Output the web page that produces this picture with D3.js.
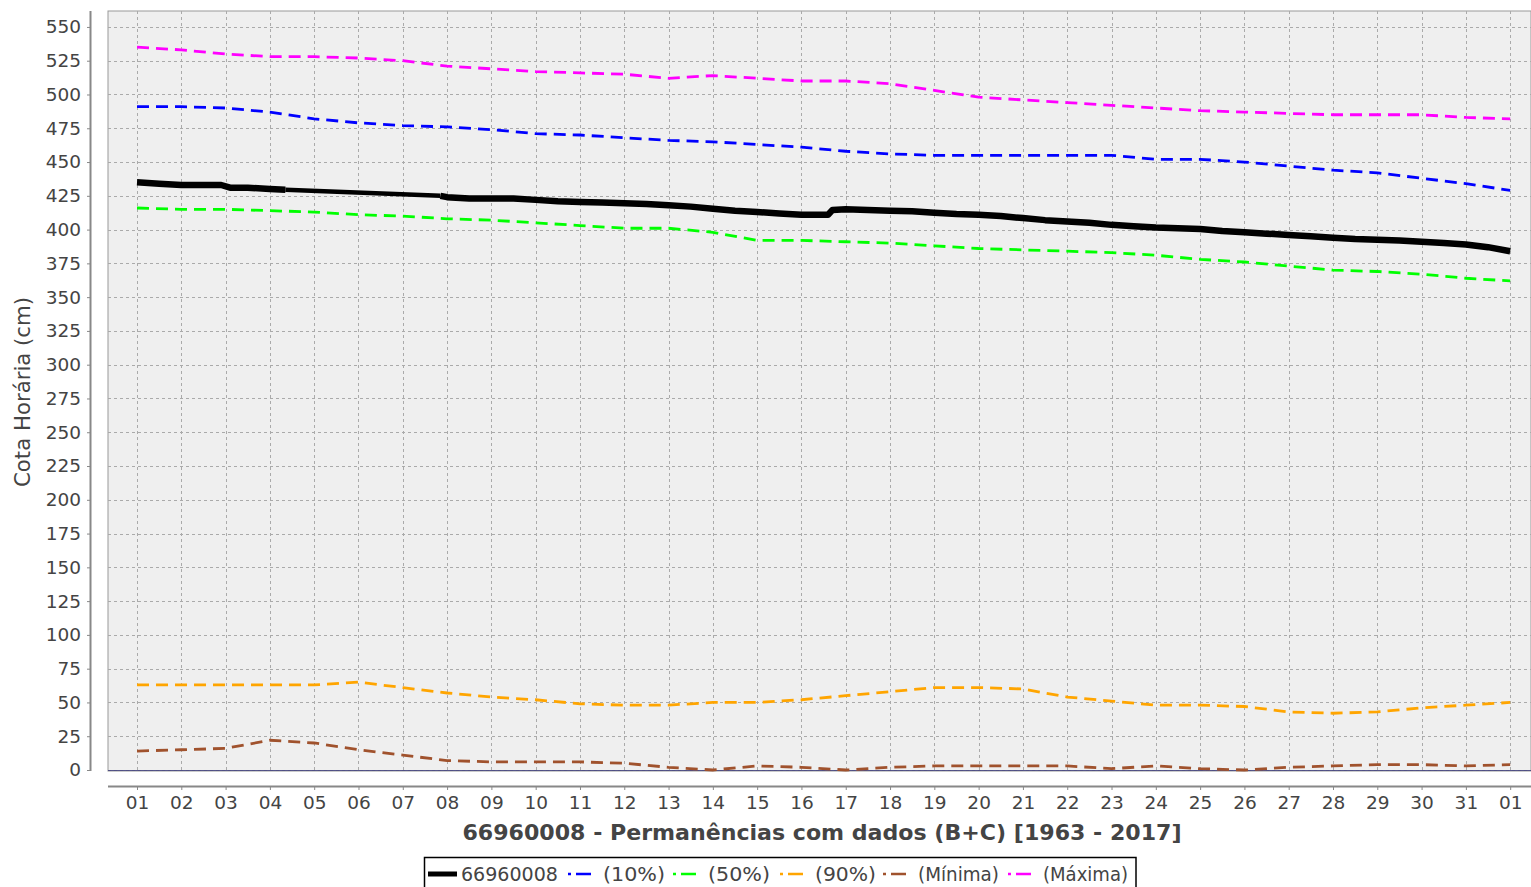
<!DOCTYPE html>
<html><head><meta charset="utf-8">
<script src="https://cdn.jsdelivr.net/npm/d3@7/dist/d3.min.js"></script>
<style>body{margin:0;background:#fff;} svg{display:block;font-family:"DejaVu Sans",sans-serif;}</style>
</head><body>
<svg id="c" width="1531" height="887"></svg>
<script>
// ---- data ----
const dayLabels = ["01","02","03","04","05","06","07","08","09","10","11","12","13","14","15","16","17","18","19","20","21","22","23","24","25","26","27","28","29","30","31","01"];
const yTicks = [0,25,50,75,100,125,150,175,200,225,250,275,300,325,350,375,400,425,450,475,500,525,550];
const stationDays = [0,0.5,1,1.5,1.9,2.1,2.5,3,3.35,6.85,7,7.5,8,8.5,9,9.5,10,10.5,11,11.5,12,12.5,13,13.5,14,14.5,15,15.6,15.7,16,16.5,17,17.5,18,18.5,19,19.5,20,20.5,21,21.5,22,22.5,23,23.5,24,24.5,25,25.5,26,26.5,27,27.5,28,28.5,29,29.5,30,30.5,31];
const stationVals = [435,434,433,433,433,431,431,430,429.5,425,424,423,423,423,422,421,420.5,420,419.5,419,418,417,415.5,414,413,412,411,411,414.5,415,414.5,414,413.5,412.5,411.5,411,410,408.5,407,406,405,403.5,402.5,401.5,401,400.5,399,398,397,396,395,394,393,392.5,392,391,390,389,387,384];
const gapStart = 3.35, gapEnd = 6.85; // period without hourly data (straight connecting segment)
const p10 = [491,491,490,487,482,479,477,476,474,471,470,468,466,465,463,461,458,456,455,455,455,455,455,452,452,450,447,444,442,438,434,429];
const p50 = [416,415,415,414,413,411,410,408,407,405,403,401,401,398,392,392,391,390,388,386,385,384,383,381,378,376,373,370,369,367,364,362];
const p90 = [63,63,63,63,63,65,61,57,54,52,49,48,48,50,50,52,55,58,61,61,60,54,51,48,48,47,43,42,43,46,48,50];
const pMin = [14,15,16,22,20,15,11,7,6,6,6,5,2,0,3,2,0,2,3,3,3,3,1,3,1,0,2,3,4,4,3,4];
const pMax = [535,533,530,528,528,527,525,521,519,517,516,515,512,514,512,510,510,508,503,498,496,494,492,490,488,487,486,485,485,485,483,482];
const seriesNames = ["66960008","(10%)","(50%)","(90%)","(Mínima)","(Máxima)"];
const seriesColors = ["#000000","#0000ff","#00ff00","#ffa500","#a0522d","#ff00ff"];

// ---- layout ----
const svg = d3.select("#c");
const plotL = 108, plotR = 1531, plotT = 11, plotB = 771;
const x = d3.scaleLinear().domain([-0.655, 31.47]).range([plotL, plotR]);
const y = d3.scaleLinear().domain([-0.74, 561.8]).range([plotB, plotT]);
const textCol = "#444";
const axisCol = "#888";

svg.append("rect").attr("x", plotL).attr("y", plotT).attr("width", plotR - plotL).attr("height", plotB - plotT)
  .attr("fill", "#efefef").attr("stroke", "#999").attr("stroke-width", 1);

// grid
const grid = svg.append("g").attr("stroke", "#aaaaaa").attr("stroke-width", 1).attr("stroke-dasharray", "3,3");
yTicks.forEach(v => grid.append("line").attr("x1", plotL).attr("x2", plotR).attr("y1", Math.round(y(v)) + 0.5).attr("y2", Math.round(y(v)) + 0.5));
dayLabels.forEach((d, i) => grid.append("line").attr("y1", plotT).attr("y2", plotB).attr("x1", Math.round(x(i)) + 0.5).attr("x2", Math.round(x(i)) + 0.5));

// y axis (offset)
const yAxis = d3.axisLeft(y).tickValues(yTicks).tickSize(4).tickPadding(6);
const gy = svg.append("g").attr("transform", "translate(91,0)").call(yAxis);
gy.select(".domain").attr("d", `M-0.5,${plotT}V${plotB}`).attr("stroke", axisCol).attr("stroke-width", 2);
gy.selectAll(".tick line").attr("stroke", axisCol);
gy.selectAll(".tick text").attr("fill", textCol).style("font-size", "18.5px").style("font-family", "DejaVu Sans");

// x axis (offset)
const xAxis = d3.axisBottom(x).tickValues(d3.range(dayLabels.length)).tickFormat(i => dayLabels[i]).tickSize(4).tickPadding(6);
const gx = svg.append("g").attr("transform", "translate(0,786)").call(xAxis);
gx.select(".domain").attr("d", `M${plotL},0.5H${plotR}`).attr("stroke", axisCol).attr("stroke-width", 2);
gx.selectAll(".tick line").attr("stroke", axisCol);
gx.selectAll(".tick text").attr("fill", textCol).style("font-size", "18.5px").style("font-family", "DejaVu Sans");

// zero baseline
svg.append("line").attr("x1", plotL).attr("x2", plotR).attr("y1", y(0) + 0.5).attr("y2", y(0) + 0.5)
  .attr("stroke", "#3a3a7a").attr("stroke-width", 1).attr("opacity", 0.8);

// series
const line = d3.line().x(d => x(d[0])).y(d => y(d[1]));
const idx = d3.range(dayLabels.length);
const dashed = [[p90, 3], [pMin, 4], [p50, 2], [p10, 1], [pMax, 5]];
dashed.forEach(([arr, ci]) => {
  svg.append("path").datum(idx.map(i => [i, arr[i]])).attr("d", line)
    .attr("fill", "none").attr("stroke", seriesColors[ci]).attr("stroke-width", 2.8)
    .attr("stroke-dasharray", "12,7");
});
const stPts = stationDays.map((d, i) => [d, stationVals[i]]);
const before = stPts.filter(p => p[0] <= gapStart);
const gapSeg = stPts.filter(p => p[0] >= gapStart && p[0] <= gapEnd);
const after = stPts.filter(p => p[0] >= gapEnd);
svg.append("path").datum(gapSeg).attr("d", line)
  .attr("fill", "none").attr("stroke", "#000").attr("stroke-width", 4.5);
[before, after].forEach(seg => {
  svg.append("path").datum(seg).attr("d", line)
    .attr("fill", "none").attr("stroke", "#000").attr("stroke-width", 6.5).attr("stroke-linejoin", "round");
});

// axis titles
svg.append("text").attr("transform", "translate(30,392) rotate(-90)").attr("text-anchor", "middle")
  .attr("fill", textCol).style("font-size", "21px").attr("textLength", 190).attr("lengthAdjust", "spacingAndGlyphs")
  .text("Cota Horária (cm)");
svg.append("text").attr("x", 822).attr("y", 840).attr("text-anchor", "middle")
  .attr("fill", textCol).style("font-size", "21px").style("font-weight", "bold")
  .attr("textLength", 719).attr("lengthAdjust", "spacingAndGlyphs")
  .text("66960008 - Permanências com dados (B+C) [1963 - 2017]");

// legend
const lg = svg.append("g");
const box = lg.append("rect").attr("x", 424.5).attr("y", 857.5).attr("height", 40).attr("fill", "#fff").attr("stroke", "#000").attr("stroke-width", 1.5);
const textStarts = [461, 603, 708, 815, 918, 1043];
const textWidths = [97, 62, 62, 61, 81, 85];
seriesNames.forEach((name, i) => {
  const tx = textStarts[i];
  if (i === 0) {
    lg.append("line").attr("x1", 428).attr("x2", 457).attr("y1", 874).attr("y2", 874).attr("stroke", "#000").attr("stroke-width", 5);
  } else {
    lg.append("line").attr("x1", tx - 35).attr("x2", tx - 12).attr("y1", 874).attr("y2", 874).attr("stroke", seriesColors[i]).attr("stroke-width", 2.5).attr("stroke-dasharray", "3,5,15");
  }
  lg.append("text").attr("x", tx).attr("y", 881).attr("fill", textCol).style("font-size", "19px")
    .attr("textLength", textWidths[i]).attr("lengthAdjust", "spacingAndGlyphs").text(name);
});
box.attr("width", 1136 - 424.5);
</script>
</body></html>
